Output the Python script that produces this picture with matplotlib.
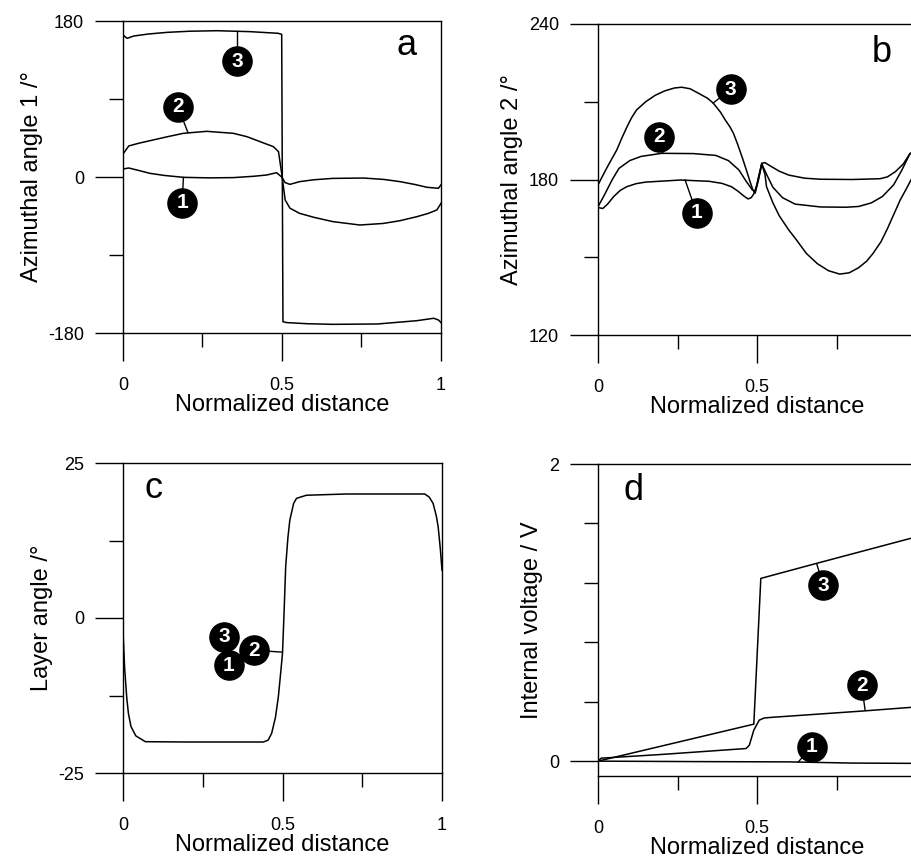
import matplotlib
matplotlib.use("Agg")
import matplotlib.pyplot as plt
from matplotlib.ticker import FixedLocator

plt.rcParams.update({"font.family": ["Liberation Sans", "DejaVu Sans"],
                     "axes.linewidth": 1.0, "lines.linewidth": 1.1})

# ── data ───────────────────────────────────────────────────────────────────
# a: azimuthal angle 1 (deg)
a1_x = [0, 0.018, 0.05, 0.085, 0.13, 0.19, 0.27, 0.347, 0.41, 0.452, 0.483, 0.499, 0.51, 0.525, 0.555, 0.6, 0.66,
        0.757, 0.82, 0.872, 0.92, 0.956, 0.992, 1.0]
a1_y = [9.2, 10.4, 7.5, 4.2, 1.8, -0.4, -1.0, -0.7, 0.8, 2.3, 5.0, 0.0, -6.5, -8.5, -5.4, -3.2, -1.6,
        -1.2, -2.8, -5.4, -8.8, -11.9, -13.0, -9.0]
a2_x = [0, 0.018, 0.05, 0.085, 0.14, 0.19, 0.263, 0.347, 0.39, 0.431, 0.473, 0.489, 0.499, 0.51, 0.525, 0.555, 0.6,
        0.66, 0.745, 0.818, 0.87, 0.924, 0.96, 0.987, 1.0]
a2_y = [26.5, 35.8, 39.0, 41.9, 46.5, 50.4, 52.7, 50.4, 46.5, 40.8, 35.0, 29.2, 4.2, -26.5, -36.0, -41.9, -46.5,
        -51.5, -55.4, -53.6, -50.5, -45.8, -42.0, -38.0, -30.4]
a3_x = [0, 0.013, 0.034, 0.08, 0.139, 0.21, 0.296, 0.4, 0.488, 0.499, 0.503, 0.515, 0.58, 0.66, 0.8, 0.924, 0.977, 0.992, 1.0]
a3_y = [163.8, 160.0, 162.7, 165.0, 166.9, 168.2, 168.8, 167.7, 165.8, 164.6, -167.0, -168.0, -169.3, -170.0, -169.6,
        -165.8, -163.0, -165.0, -168.0]

# b: azimuthal angle 2 (deg)
b1_x = [0, 0.015, 0.03, 0.05, 0.07, 0.09, 0.12, 0.15, 0.26, 0.35, 0.39, 0.42, 0.44, 0.46, 0.472, 0.482, 0.49, 0.5,
        0.515, 0.525, 0.545, 0.57, 0.6, 0.65, 0.7, 0.8, 0.887, 0.91, 0.935, 0.96, 0.981, 1.0]
b1_y = [169.2, 168.8, 170.5, 173.5, 175.8, 177.2, 178.4, 179.0, 179.8, 179.3, 178.5, 177.2, 175.5, 173.5, 172.5, 173.0,
        174.5, 178.0, 186.3, 186.5, 185.0, 183.2, 181.7, 180.5, 180.1, 180.0, 180.3, 181.0, 183.0, 186.0, 190.0, 191.0]
b2_x = [0, 0.02, 0.045, 0.066, 0.1, 0.135, 0.2, 0.3, 0.37, 0.41, 0.443, 0.465, 0.485, 0.495, 0.505, 0.515, 0.53,
        0.55, 0.58, 0.62, 0.7, 0.78, 0.82, 0.86, 0.895, 0.93, 0.955, 0.981, 1.0]
b2_y = [169.5, 174.0, 180.0, 184.3, 187.3, 188.9, 190.1, 190.0, 189.3, 187.3, 183.7, 179.5, 176.0, 175.5, 181.0, 186.0,
        182.0, 177.0, 173.0, 170.5, 169.4, 169.3, 169.6, 171.0, 173.5, 178.0, 183.5, 190.0, 191.0]
b3_x = [0, 0.015, 0.03, 0.045, 0.059, 0.075, 0.09, 0.105, 0.121, 0.15, 0.18, 0.21, 0.24, 0.263, 0.29, 0.32, 0.345,
        0.363, 0.385, 0.4, 0.415, 0.426, 0.44, 0.455, 0.467, 0.478, 0.487, 0.494, 0.505, 0.515, 0.525, 0.53, 0.55,
        0.57, 0.6, 0.624, 0.655, 0.69, 0.725, 0.76, 0.79, 0.82, 0.845, 0.865, 0.89, 0.91, 0.93, 0.95, 0.97, 0.985, 1.0]
b3_y = [177.9, 181.5, 185.0, 188.3, 191.4, 196.0, 200.0, 203.7, 206.8, 210.0, 212.5, 214.2, 215.3, 215.6, 215.0, 213.0,
        211.3, 209.4, 206.0, 203.0, 200.3, 197.8, 193.3, 188.0, 183.5, 179.2, 176.0, 174.7, 180.0, 186.0, 182.0, 177.2,
        171.0, 166.0, 160.5, 156.7, 151.5, 147.5, 144.8, 143.5, 144.0, 146.0, 148.5, 151.5, 156.0, 161.0, 166.5, 172.0,
        176.5, 180.0, 184.0]

# c: layer angle (deg), identical for all three cases
c_x = [0, 0.005, 0.012, 0.017, 0.025, 0.04, 0.07, 0.2, 0.44, 0.455, 0.466, 0.478, 0.487, 0.494, 0.5, 0.505, 0.51, 0.517,
       0.523, 0.535, 0.544, 0.575, 0.7, 0.946, 0.96, 0.972, 0.982, 0.988, 0.995, 1.0]
c_y = [-2.0, -8.0, -13.0, -15.4, -17.5, -19.0, -19.95, -20.0, -20.0, -19.7, -18.6, -16.0, -12.7, -9.0, -5.7, 1.0, 8.3, 13.0,
       15.8, 18.5, 19.3, 19.8, 20.0, 20.0, 19.5, 18.5, 16.5, 14.7, 11.0, 7.7]

# d: internal voltage (V)
d1_x = [0, 0.3, 0.6, 0.8, 1.0]
d1_y = [0.0, -0.003, -0.005, -0.013, -0.015]
d2_x = [0, 0.01, 0.2, 0.466, 0.476, 0.49, 0.507, 0.522, 0.541, 0.83, 0.984, 1.0]
d2_y = [0.0, 0.02, 0.045, 0.085, 0.108, 0.209, 0.276, 0.29, 0.294, 0.337, 0.362, 0.363]
d3_x = [0, 0.49, 0.512, 0.68, 0.984, 1.0]
d3_y = [0.0, 0.249, 1.23, 1.327, 1.50, 1.51]

# numbered circle labels: (text, circle x, circle y, curve x, curve y)
labels_a = [("3", 0.358, 133.8, 0.358, 168.5), ("2", 0.173, 80.8, 0.204, 51.5), ("1", 0.186, -30.0, 0.19, -0.5)]
labels_b = [("3", 0.417, 214.8, 0.362, 209.5), ("2", 0.192, 196.5, 0.204, 190.2), ("1", 0.31, 167.1, 0.274, 179.8)]
labels_c = [("3", 0.317, -3.0, 0.317, -3.0), ("1", 0.331, -7.6, 0.331, -7.6), ("2", 0.411, -5.2, 0.497, -5.5)]
labels_d = [("3", 0.708, 1.185, 0.688, 1.327), ("2", 0.829, 0.512, 0.84, 0.343), ("1", 0.672, 0.096, 0.63, -0.005)]

W, H = 911, 858
fig = plt.figure(figsize=(W / 100, H / 100), dpi=100)


def box(l, t, r, b):
    return [l / W, 1 - b / H, (r - l) / W, (b - t) / H]


def style(ax, ylim, ymaj, ymin, ylabel, letter, lpos, xlabels=("0", "0.5", "1")):
    ax.set_xlim(0, 1)
    ax.set_ylim(*ylim)
    ax.xaxis.set_major_locator(FixedLocator([0, 0.5, 1]))
    ax.xaxis.set_minor_locator(FixedLocator([0.25, 0.75]))
    ax.set_xticklabels(list(xlabels))
    ax.yaxis.set_major_locator(FixedLocator(ymaj))
    ax.yaxis.set_minor_locator(FixedLocator(ymin))
    ax.set_yticklabels([f"{v:g}" for v in ymaj])
    ax.tick_params(which="both", direction="out", width=1.0, labelsize=13)
    ax.tick_params(which="major", length=20)
    ax.tick_params(which="minor", length=10)
    ax.tick_params(axis="x", pad=12)
    ax.tick_params(axis="y", pad=8)
    ax.set_xlabel("Normalized distance", fontsize=17, labelpad=0)
    ax.set_ylabel(ylabel, fontsize=17, labelpad=4)
    ax.text(lpos[0], lpos[1], letter, transform=ax.transAxes, fontsize=26,
            ha="center", va="baseline")


def circles(ax, labs):
    for t, cx, cy, px, py in labs:
        ax.plot([px, cx], [py, cy], color="black", lw=1.0, zorder=3)
    for t, cx, cy, px, py in labs:
        ax.plot(cx, cy, "o", ms=21, color="black", zorder=4)
        ax.text(cx, cy, t, color="white", fontsize=15, fontweight="bold",
                ha="center", va="center", zorder=5)


axA = fig.add_axes(box(123, 21, 441, 333))
for xs, ys in [(a1_x, a1_y), (a2_x, a2_y), (a3_x, a3_y)]:
    axA.plot(xs, ys, color="black")
style(axA, (-180, 180), [-180, 0, 180], [-90, 90], "Azimuthal angle 1 /°", "a", (0.893, 0.891))
circles(axA, labels_a)

# right-hand panels run past the page edge in the original, so "1" is not shown
axB = fig.add_axes(box(598, 24, 916, 335))
for xs, ys in [(b1_x, b1_y), (b2_x, b2_y), (b3_x, b3_y)]:
    axB.plot(xs, ys, color="black")
style(axB, (120, 240), [120, 180, 240], [150, 210], "Azimuthal angle 2 /°", "b", (0.892, 0.878),
      xlabels=("0", "0.5", ""))
circles(axB, labels_b)

axC = fig.add_axes(box(123, 463, 442, 773))
axC.plot(c_x, c_y, color="black")
style(axC, (-25, 25), [-25, 0, 25], [-12.5, 12.5], "Layer angle /°", "c", (0.096, 0.886))
circles(axC, labels_c)

axD = fig.add_axes(box(598, 464, 916, 776))
for xs, ys in [(d1_x, d1_y), (d2_x, d2_y), (d3_x, d3_y)]:
    axD.plot(xs, ys, color="black")
style(axD, (-0.1, 2), [0, 2], [0.4, 0.8, 1.2, 1.6], "Internal voltage / V", "d", (0.113, 0.885),
      xlabels=("0", "0.5", ""))
circles(axD, labels_d)

fig.savefig("out.png", dpi=100, facecolor="white")
